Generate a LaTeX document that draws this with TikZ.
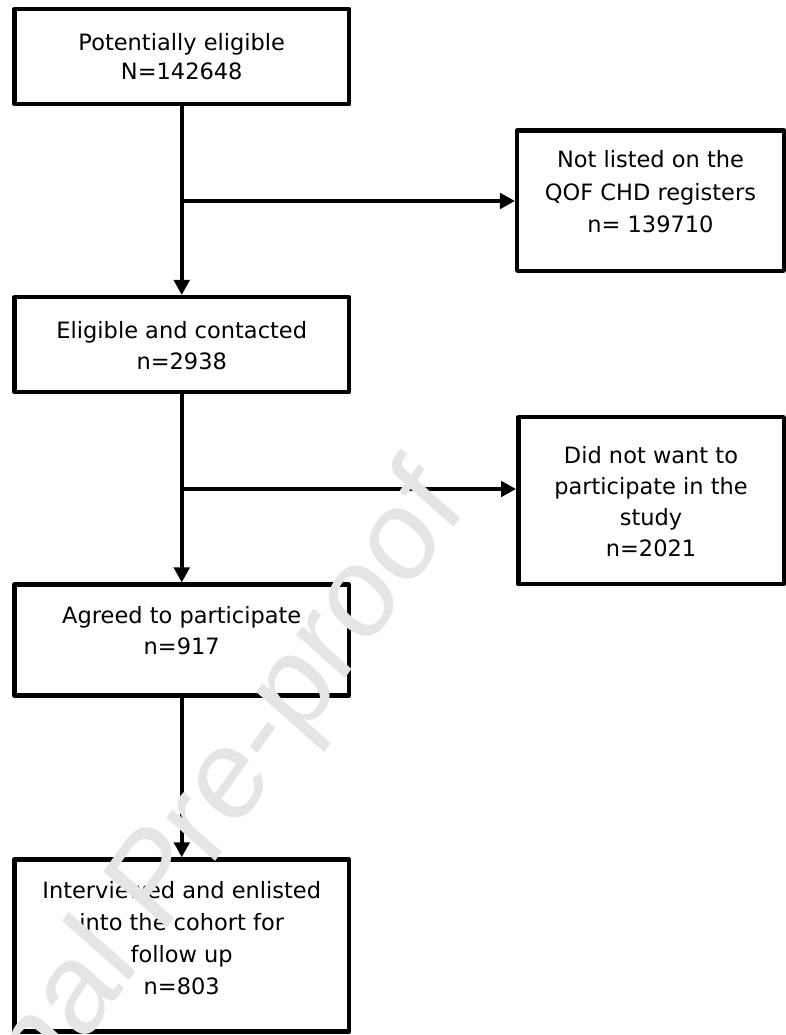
\documentclass[tikz,border=0pt]{standalone}
\usepackage{fontspec}
\setmainfont{DejaVu Sans}
\newfontfamily\wmfont{Liberation Sans}
\usetikzlibrary{arrows.meta}
\definecolor{wmgray}{gray}{0.9}
\begin{document}
\begin{tikzpicture}[x=1pt,y=1pt,
  box/.style={draw=black, line width=4.5pt, line join=round, rectangle, inner sep=0pt},
  txt/.style={align=center, inner sep=0pt, font=\fontsize{22.5}{#1}\selectfont},
  conn/.style={draw=black, line width=3.6pt, -{Triangle[length=15pt,width=15.5pt]}},
  wmtext/.style={text=wmgray, inner sep=0pt, font=\wmfont\fontsize{118}{130}\selectfont}]
\useasboundingbox (0,0) rectangle (786,-1035);
\fill[white] (0,0) rectangle (786,-1035);

% boxes
\node[box, minimum width=334.5pt, minimum height=95.4pt] (b1) at (181.75,-56.5) {};
\node[box, minimum width=334.5pt, minimum height=94.6pt] (b2) at (181.75,-344.5) {};
\node[box, minimum width=334.5pt, minimum height=110.8pt] (b3) at (181.75,-640.1) {};
\node[box, minimum width=334.5pt, minimum height=172pt] (b4) at (181.75,-945.5) {};
\node[box, minimum width=266.6pt, minimum height=140.3pt] (r1) at (650.5,-200.65) {};
\node[box, minimum width=265.5pt, minimum height=167pt] (r2) at (651,-500.7) {};

% texts
\node[txt=29.3pt] (t1) at (181.75,-56.8) {Potentially eligible\\N=142648};
\node[txt=32.5pt] (tr1) at (650.5,-191.65) {Not listed on the\\QOF CHD registers\\n= 139710};
\node[txt=31pt] (t2) at (181.75,-345.25) {Eligible and contacted\\n=2938};
\node[txt=31.1pt] (tr2) at (651,-501.45) {Did not want to\\participate in the\\study\\n=2021};
\node[txt=31.7pt] (t3) at (181.75,-630.6) {Agreed to participate\\n=917};
\node[txt=32pt] (t4) at (181.75,-937.75) {Interviewed and enlisted\\into the cohort for\\follow up\\n=803};

% connectors
\coordinate (j1) at (181.75,-201);
\coordinate (j2) at (181.75,-489);
\draw[conn] (b1.south) -- (b2.north);
\draw[conn] (b2.south) -- (b3.north);
\draw[conn] (b3.south) -- (b4.north);
\draw[conn] (j1) -- (j1 -| r1.west);
\draw[conn] (j2) -- (j2 -| r2.west);

% watermark
\begin{scope}
\clip (0,0) rectangle (786,-1035);
\begin{scope}[shift={(467.7,-507.9)}, yscale=1.113]
\node[wmtext, rotate=51.5, anchor=base east, transform shape] (wmk) at (0,0) {Journal Pre-proof};
\end{scope}
\end{scope}
\end{tikzpicture}
\end{document}
